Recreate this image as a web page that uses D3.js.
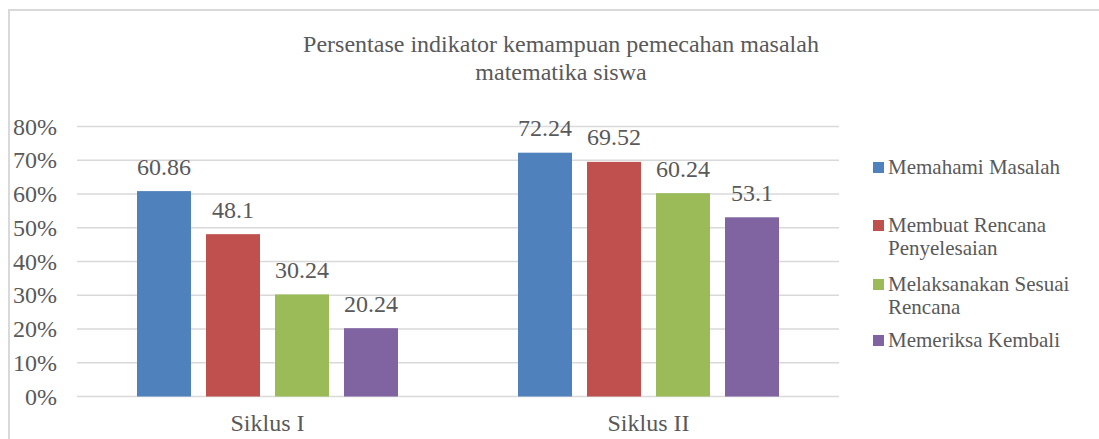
<!DOCTYPE html>
<html>
<head>
<meta charset="utf-8">
<script src="https://cdn.jsdelivr.net/npm/d3@7"></script>
<style>
  html, body { margin: 0; padding: 0; background: #fff; }
  svg { display: block; }
</style>
</head>
<body>
<svg id="chart" width="1099" height="439"></svg>
<script>
const categories = ["Siklus I", "Siklus II"];
const seriesNames = ["Memahami Masalah", "Membuat Rencana Penyelesaian", "Melaksanakan Sesuai Rencana", "Memeriksa Kembali"];
const legendLines = [["Memahami Masalah"], ["Membuat Rencana", "Penyelesaian"], ["Melaksanakan Sesuai", "Rencana"], ["Memeriksa Kembali"]];
const colors = ["#4F81BD", "#C0504D", "#9BBB59", "#8064A2"];
const siklus1 = [60.86, 48.1, 30.24, 20.24];
const siklus2 = [72.24, 69.52, 60.24, 53.1];
const yTicks = [0, 0.1, 0.2, 0.3, 0.4, 0.5, 0.6, 0.7, 0.8];
const titleLines = ["Persentase indikator kemampuan pemecahan masalah", "matematika siswa"];

const values = [siklus1, siklus2];
const FONT = "Liberation Serif";
const TXT = "#595959";
const svg = d3.select("#chart");

// outer border (left + top visible)
svg.append("path").attr("d", "M9,439 L9,10 L1099,10")
  .attr("fill", "none").attr("stroke", "#D9D9D9").attr("stroke-width", 2);

const plotLeft = 77, plotRight = 839, plotTop = 126.5, plotBottom = 396.5;
const y = d3.scaleLinear().domain([0, 0.8]).range([plotBottom, plotTop]);
const x0 = d3.scaleBand().domain(categories).range([plotLeft, plotRight])
  .paddingInner(0.315).paddingOuter(0.1575);
const x1 = d3.scaleBand().domain(seriesNames).range([0, x0.bandwidth()])
  .paddingInner(0.2174).paddingOuter(0);

// gridlines
svg.append("g").selectAll("line").data(yTicks).join("line")
  .attr("x1", plotLeft).attr("x2", plotRight)
  .attr("y1", d => y(d)).attr("y2", d => y(d))
  .attr("stroke", "#D9D9D9").attr("stroke-width", 1.5);

// y labels
svg.append("g").selectAll("text").data(yTicks).join("text")
  .attr("x", 57).attr("y", d => y(d) + 8)
  .attr("text-anchor", "end").attr("font-size", 24)
  .attr("font-family", FONT).attr("fill", TXT)
  .text(d => d3.format(".0%")(d));

// bars
const groups = svg.append("g").selectAll("g").data(categories).join("g")
  .attr("transform", c => `translate(${x0(c)},0)`);
groups.each(function(c, ci) {
  const g = d3.select(this);
  const data = seriesNames.map((s, si) => ({s, si, v: values[ci][si]}));
  g.selectAll("rect").data(data).join("rect")
    .attr("x", d => x1(d.s)).attr("width", x1.bandwidth())
    .attr("y", d => y(d.v / 100)).attr("height", d => plotBottom - y(d.v / 100))
    .attr("fill", d => colors[d.si]);
  g.selectAll("text").data(data).join("text")
    .attr("x", d => x1(d.s) + x1.bandwidth() / 2)
    .attr("y", d => y(d.v / 100) - 16.5)
    .attr("text-anchor", "middle").attr("font-size", 24)
    .attr("font-family", FONT).attr("fill", TXT)
    .text(d => String(d.v));
});

// category labels
svg.append("g").selectAll("text").data(categories).join("text")
  .attr("x", c => x0(c) + x0.bandwidth() / 2).attr("y", 431)
  .attr("text-anchor", "middle").attr("font-size", 24)
  .attr("font-family", FONT).attr("fill", TXT)
  .text(c => c);

// title
svg.append("g").selectAll("text").data(titleLines).join("text")
  .attr("x", 561).attr("y", (d, i) => 52 + i * 28)
  .attr("text-anchor", "middle").attr("font-size", 24)
  .attr("font-family", FONT).attr("fill", TXT)
  .text(d => d);

// legend
const legendY = [162, 220, 279, 335];
const leg = svg.append("g").selectAll("g").data(legendLines).join("g")
  .attr("transform", (d, i) => `translate(873,${legendY[i]})`);
leg.append("rect").attr("width", 11).attr("height", 11)
  .attr("fill", (d, i) => colors[i]);
leg.each(function(lines) {
  d3.select(this).selectAll("text").data(lines).join("text")
    .attr("x", 15).attr("y", (d, j) => 12 + j * 23)
    .attr("font-size", 21)
    .attr("font-family", FONT).attr("fill", TXT)
    .text(d => d);
});
</script>
</body>
</html>
